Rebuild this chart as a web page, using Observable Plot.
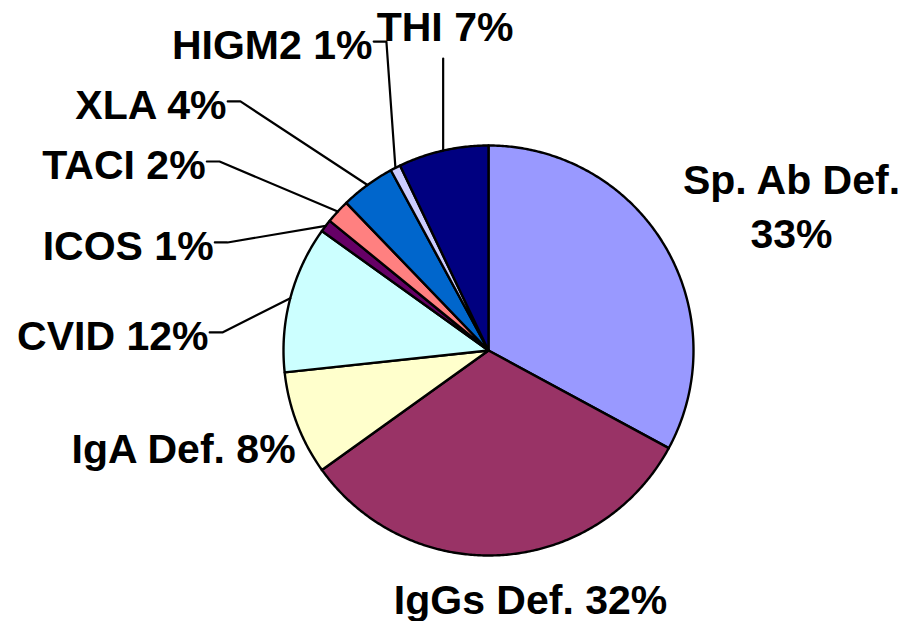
<!DOCTYPE html>
<html>
<head>
<meta charset="utf-8">
<script src="https://cdn.jsdelivr.net/npm/d3@7"></script>
<script src="https://cdn.jsdelivr.net/npm/@observablehq/plot@0.6"></script>
<style>
  html, body { margin: 0; padding: 0; background: #fff; }
  #chart svg { display: block; }
</style>
</head>
<body>
<div id="chart"></div>
<script>
// ---- data ----
const categories = ["Sp. Ab Def.", "IgGs Def.", "IgA Def.", "CVID", "ICOS", "TACI", "XLA", "HIGM2", "THI"];
const shares     = [32.9, 32.2, 8.2, 11.6, 1.0, 1.9, 4.3, 0.8, 7.1];   // slice sizes (%)
const pctLabels  = [33, 32, 8, 12, 1, 2, 4, 1, 7];                     // printed percentages

// ---- styles ----
const palette = ["#9999FF", "#993366", "#FFFFCC", "#CCFFFF", "#660066", "#FF8080", "#0066CC", "#CCCCFF", "#000080"];

// ---- label layout (pie-radius units, origin at pie centre, y up) ----
// kind: "left" = text ends at x, elbow leader; "top" = vertical leader; "free" = no leader
const labelLayout = [
  {kind: "free", x:  1.478, y:  0.717, anchor: "middle", sep: "\n"},
  {kind: "free", x:  0.205, y: -1.200, anchor: "middle", sep: " "},
  {kind: "free", x: -0.941, y: -0.463, anchor: "end",    sep: " "},
  {kind: "left", x: -1.366, y:  0.088, anchor: "end",    sep: " "},
  {kind: "left", x: -1.341, y:  0.527, anchor: "end",    sep: " "},
  {kind: "left", x: -1.380, y:  0.922, anchor: "end",    sep: " "},
  {kind: "left", x: -1.278, y:  1.215, anchor: "end",    sep: " "},
  {kind: "left", x: -0.566, y:  1.507, anchor: "end",    sep: " "},
  {kind: "top",  x: -0.212, y:  1.595, anchor: "middle", sep: " ", leaderTop: 1.424}
];

const W = 907, H = 621, R = 205, CX = 488, CY = 350;

// ---- geometry from the data ----
const total = d3.sum(shares);
let acc = 0;
const slices = categories.map((c, i) => {
  const a0 = acc / total * 2 * Math.PI;
  acc += shares[i];
  const a1 = acc / total * 2 * Math.PI;
  const n = Math.max(4, Math.ceil((a1 - a0) / (Math.PI / 360)));
  const pts = [[0, 0]];
  for (let k = 0; k <= n; k++) {
    const a = a0 + (a1 - a0) * k / n;
    pts.push([Math.sin(a), Math.cos(a)]);
  }
  pts.push([0, 0]);
  return {category: c, a0, a1, mid: (a0 + a1) / 2, color: palette[i], pts};
});

const labels = slices.map((s, i) => ({
  ...labelLayout[i],
  text: `${categories[i]}${labelLayout[i].sep}${pctLabels[i]}%`
}));

const leaders = [];
slices.forEach((s, i) => {
  const L = labelLayout[i];
  const ex = Math.sin(s.mid), ey = Math.cos(s.mid);
  if (L.kind === "left") {
    leaders.push({id: i, x: L.x + 0.006, y: L.y});
    leaders.push({id: i, x: L.x + 0.068, y: L.y});
    leaders.push({id: i, x: ex, y: ey});
  } else if (L.kind === "top") {
    leaders.push({id: i, x: ex, y: L.leaderTop});
    leaders.push({id: i, x: ex, y: ey});
  }
});

const textStyle = {
  x: "x", y: "y", text: "text",
  lineAnchor: "middle", lineHeight: 1.32,
  fontSize: 41, fontWeight: "bold",
  fontFamily: "'Liberation Sans', Arial, Helvetica, sans-serif",
  fill: "black"
};

const marks = [
  ...slices.map(s => Plot.line(s.pts, {
    x: d => d[0], y: d => d[1],
    fill: s.color, stroke: "black", strokeWidth: 2.4, strokeLinejoin: "round"
  })),
  Plot.line(leaders, {x: "x", y: "y", z: "id", stroke: "black", strokeWidth: 2.2}),
  Plot.text(labels.filter(d => d.anchor === "end"), {...textStyle, textAnchor: "end"}),
  Plot.text(labels.filter(d => d.anchor === "middle"), {...textStyle, textAnchor: "middle"})
];

const chart = Plot.plot({
  width: W, height: H,
  marginTop: 0, marginRight: 0, marginBottom: 0, marginLeft: 0,
  x: {domain: [-CX / R, (W - CX) / R], axis: null},
  y: {domain: [-(H - CY) / R, CY / R], axis: null},
  style: {background: "white", overflow: "visible"},
  marks
});
document.getElementById("chart").appendChild(chart);
</script>
</body>
</html>
